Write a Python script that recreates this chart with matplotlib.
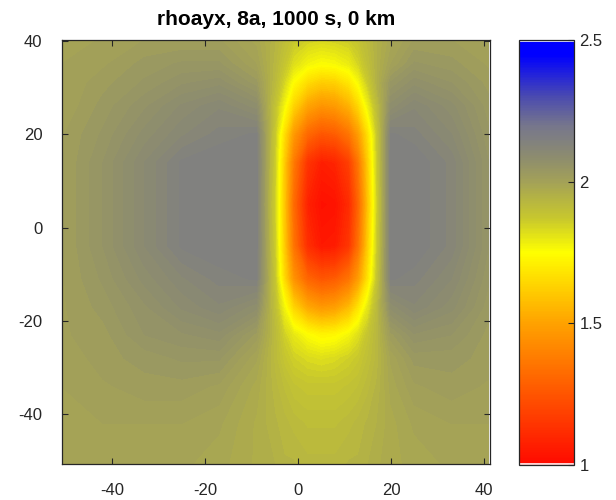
import numpy as np
import matplotlib
matplotlib.use('Agg')
import matplotlib.pyplot as plt
from matplotlib.colors import LinearSegmentedColormap, ListedColormap, Normalize
import matplotlib.cm as cm

plt.rcParams['font.family'] = ['Liberation Sans', 'DejaVu Sans']
plt.rcParams['axes.unicode_minus'] = False

# grid nodes (km)
x_km = [-51, -42, -33, -25, -17, -9, -5, -3, -1, 2, 5, 8, 11, 13, 15, 17, 20, 25, 33, 41]
y_km = [-51, -42, -34, -28, -23, -17, -11, -4, 5, 14, 20, 26, 31, 35, 41]

# apparent resistivity estimates, one row per y node (bottom to top)
rho = [
    [2.00, 1.99, 1.99, 1.99, 1.98, 1.96, 1.95, 1.94, 1.94, 1.93, 1.93, 1.93, 1.94, 1.94, 1.95, 1.96, 1.97, 1.98, 1.99, 2.00],
    [2.00, 2.00, 2.00, 2.00, 1.99, 1.96, 1.94, 1.93, 1.92, 1.91, 1.91, 1.91, 1.92, 1.93, 1.94, 1.95, 1.97, 1.99, 2.00, 2.00],
    [2.00, 2.01, 2.02, 2.02, 2.01, 1.97, 1.93, 1.91, 1.89, 1.88, 1.88, 1.88, 1.89, 1.90, 1.92, 1.94, 1.98, 2.01, 2.02, 2.01],
    [2.00, 2.02, 2.03, 2.04, 2.04, 1.99, 1.92, 1.88, 1.85, 1.83, 1.82, 1.83, 1.85, 1.87, 1.90, 1.93, 1.99, 2.03, 2.03, 2.02],
    [2.01, 2.02, 2.05, 2.06, 2.07, 2.02, 1.92, 1.85, 1.80, 1.75, 1.72, 1.73, 1.77, 1.82, 1.88, 1.93, 2.02, 2.06, 2.05, 2.02],
    [2.01, 2.03, 2.06, 2.09, 2.11, 2.08, 1.90, 1.77, 1.63, 1.51, 1.46, 1.48, 1.56, 1.67, 1.80, 1.92, 2.08, 2.11, 2.08, 2.03],
    [2.01, 2.04, 2.08, 2.11, 2.13, 2.14, 1.88, 1.65, 1.45, 1.30, 1.25, 1.27, 1.35, 1.48, 1.67, 1.88, 2.14, 2.13, 2.10, 2.04],
    [2.01, 2.05, 2.10, 2.14, 2.15, 2.15, 1.86, 1.61, 1.35, 1.12, 1.05, 1.06, 1.15, 1.34, 1.61, 1.86, 2.15, 2.15, 2.12, 2.05],
    [2.01, 2.05, 2.10, 2.14, 2.15, 2.15, 1.85, 1.60, 1.32, 1.08, 1.02, 1.03, 1.11, 1.30, 1.58, 1.85, 2.15, 2.15, 2.12, 2.05],
    [2.01, 2.05, 2.10, 2.14, 2.15, 2.15, 1.86, 1.61, 1.37, 1.14, 1.07, 1.09, 1.18, 1.36, 1.61, 1.86, 2.15, 2.15, 2.12, 2.05],
    [2.01, 2.04, 2.08, 2.11, 2.13, 2.14, 1.87, 1.66, 1.47, 1.31, 1.25, 1.27, 1.35, 1.48, 1.66, 1.87, 2.14, 2.13, 2.10, 2.04],
    [2.00, 2.03, 2.06, 2.09, 2.11, 2.08, 1.89, 1.77, 1.63, 1.50, 1.45, 1.47, 1.54, 1.64, 1.78, 1.91, 2.08, 2.11, 2.08, 2.03],
    [2.00, 2.02, 2.04, 2.06, 2.07, 2.03, 1.92, 1.84, 1.74, 1.65, 1.61, 1.62, 1.68, 1.76, 1.86, 1.95, 2.04, 2.07, 2.05, 2.02],
    [2.00, 2.01, 2.03, 2.04, 2.04, 2.00, 1.93, 1.88, 1.82, 1.77, 1.75, 1.76, 1.79, 1.84, 1.90, 1.95, 2.00, 2.04, 2.03, 2.01],
    [2.00, 2.00, 2.01, 2.01, 2.01, 1.98, 1.94, 1.91, 1.88, 1.86, 1.85, 1.86, 1.87, 1.89, 1.92, 1.95, 1.98, 2.01, 2.01, 2.00],
]

xticks = [-40, -20, 0, 20, 40]
yticks = [-40, -20, 0, 20, 40]
cticks = [1, 1.5, 2, 2.5]
cticklabels = ['1', '1.5', '2', '2.5']
title = 'rhoayx, 8a, 1000 s, 0 km'
vmin, vmax = 1.0, 2.5

# colormap red -> orange -> yellow -> olive -> gray -> blue
stops = [
    (0.0, (255, 10, 0)),
    (0.1667, (255, 85, 0)),
    (0.3333, (255, 162, 0)),
    (0.5, (255, 255, 0)),
    (0.58, (200, 200, 45)),
    (0.6333, (178, 177, 70)),
    (0.6667, (163, 161, 88)),
    (0.72, (143, 142, 108)),
    (0.7667, (128, 128, 128)),
    (0.80, (118, 118, 140)),
    (0.8667, (75, 75, 175)),
    (0.9667, (0, 0, 255)),
    (1.0, (0, 0, 255)),
]
base = LinearSegmentedColormap.from_list('rho', [(p, tuple(c / 255 for c in col)) for p, col in stops])
cols = base(np.linspace(0, 1, 256))
cols[0] = (1.0, 0.82, 0.82, 1)
cols[-1] = (0.86, 0.86, 1.0, 1)
cmap = ListedColormap(cols)

fig = plt.figure(figsize=(6.16, 5.0), dpi=100)
ax = fig.add_axes([62 / 616, 36 / 500, 428 / 616, 424 / 500])
cax = fig.add_axes([519 / 616, 35 / 500, 55 / 616, 425 / 500])

X, Y = np.meshgrid(x_km, y_km)
Z = np.array(rho)
levels = np.linspace(vmin, vmax, 121)
ax.contourf(X, Y, Z, levels=levels, cmap=cmap, vmin=vmin, vmax=vmax, antialiased=False)

ax.set_xlim(-50.8, 41.3)
ax.set_ylim(-50.7, 40.2)
ax.set_xticks(xticks)
ax.set_yticks(yticks)
ax.tick_params(direction='in', top=True, right=True, length=4, width=0.8,
               labelsize=12, colors='#262626', pad=14)
for s in ax.spines.values():
    s.set_color('#262626')
    s.set_linewidth(0.9)
ax.set_title(title, fontsize=15, fontweight='bold', color='black', pad=11)

sm = cm.ScalarMappable(norm=Normalize(vmin, vmax), cmap=cmap)
cb = fig.colorbar(sm, cax=cax, ticks=cticks)
cb.set_ticklabels(cticklabels)
cax.tick_params(direction='in', length=4, width=0.8, labelsize=12, colors='#262626', pad=4)
cb.outline.set_edgecolor('#262626')
cb.outline.set_linewidth(0.9)

fig.savefig('out.png', dpi=100)
